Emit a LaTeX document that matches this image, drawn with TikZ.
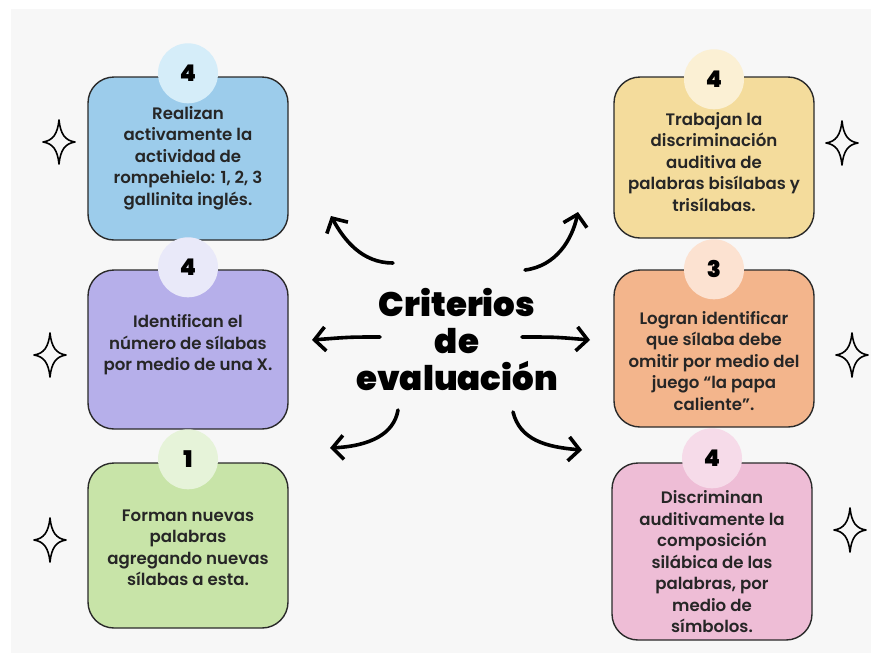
\documentclass[tikz,border=0pt]{standalone}
\usepackage{fontspec}
\setmainfont{Lato}
\newfontfamily\titlefont{Poppins Black}
\newfontfamily\cardfont{Poppins SemiBold}
\usetikzlibrary{arrows.meta}

\definecolor{bggray}{HTML}{F7F7F7}
\definecolor{cardline}{HTML}{2A2A2A}
\definecolor{inktext}{HTML}{262626}
\definecolor{bluecard}{HTML}{9CCCEB}
\definecolor{bluebadge}{HTML}{D5EDF9}
\definecolor{lilaccard}{HTML}{B6AFEA}
\definecolor{lilacbadge}{HTML}{E9E9F9}
\definecolor{greencard}{HTML}{C8E4A8}
\definecolor{greenbadge}{HTML}{E6F3D9}
\definecolor{sandcard}{HTML}{F4DC9C}
\definecolor{sandbadge}{HTML}{FBF0D4}
\definecolor{peachcard}{HTML}{F3B58C}
\definecolor{peachbadge}{HTML}{FCE2D1}
\definecolor{rosecard}{HTML}{EEBDD6}
\definecolor{rosebadge}{HTML}{F6DBE9}

\tikzset{
  card/.style={draw=cardline, line width=1.4pt, rounded corners=26pt, minimum width=200pt, fill=#1},
  badge/.style={circle, fill=#1, minimum size=60pt, inner sep=0pt, text=black,
    font=\titlefont\fontsize{23}{23}\selectfont},
  cardtext/.style={align=center, text=inktext, font=\cardfont\fontsize{16.6}{21.5}\selectfont},
  headline/.style={align=center, text=black, font=\titlefont\fontsize{34}{37}\selectfont},
  curvy/.style={line width=3.6pt, line cap=round, -{Straight Barb[length=11pt,width=24pt]}},
  starline/.style={line width=1.6pt, line join=round},
  sparkle/.pic={\draw[starline] (0,-22) .. controls (1.5,-8) and (6,-1.5) .. (16,0)
    .. controls (6,1.5) and (1.5,8) .. (0,22) .. controls (-1.5,8) and (-6,1.5) .. (-16,0)
    .. controls (-6,-1.5) and (-1.5,-8) .. (0,-22) -- cycle;}
}

\begin{document}
\begin{tikzpicture}[x=1pt, y=-1pt]
        % background
        \fill[white] (0,0) rectangle (882,662);
        \fill[bggray] (11,9) rectangle (871,653);
        % cards
        \node[card=bluecard, minimum height=163pt] (crit1) at (188,158.5) {};
        \node[card=lilaccard, minimum height=159pt] (crit2) at (188,349.5) {};
        \node[card=greencard, minimum height=165pt] (crit3) at (188,545.5) {};
        \node[card=sandcard, minimum height=161pt] (crit4) at (714,157.5) {};
        \node[card=peachcard, minimum height=157pt] (crit5) at (714,348.5) {};
        \node[card=rosecard, minimum height=177pt] (crit6) at (712,551.5) {};
        % badges
        \node[badge=bluebadge] (num1) at ([yshift=3pt]crit1.north) {4};
        \node[badge=lilacbadge] (num2) at ([yshift=2pt]crit2.north) {4};
        \node[badge=greenbadge] (num3) at ([yshift=3pt]crit3.north) {1};
        \node[badge=sandbadge] (num4) at ([yshift=-3pt]crit4.north) {4};
        \node[badge=peachbadge] (num5) at ([yshift=0pt]crit5.north) {3};
        \node[badge=rosebadge] (num6) at ([yshift=4pt]crit6.north) {4};
        % texts
        \node[cardtext] (txt1) at (188,158) {Realizan\\activamente la\\actividad de\\rompehielo: 1, 2, 3\\gallinita inglés.};
        \node[cardtext] (txt2) at (188,345) {Identifican el\\número de sílabas\\por medio de una X.};
        \node[cardtext] (txt3) at (188,548) {Forman nuevas\\palabras\\agregando nuevas\\sílabas a esta.};
        \node[cardtext] (txt4) at (714,162) {Trabajan la\\discriminación\\auditiva de\\palabras bisílabas y\\trisílabas.};
        \node[cardtext] (txt5) at (714,361) {Logran identificar\\que sílaba debe\\omitir por medio del\\juego “la papa\\caliente”.};
        \node[cardtext] (txt6) at (712,562) {Discriminan\\auditivamente la\\composición\\silábica de las\\palabras, por\\medio de\\símbolos.};
        % title
        \node[headline] (crit) at (457,340) {Criterios\\de\\evaluación};
        % arrows
        \coordinate (ul0) at (393,263); \coordinate (ul1) at (331,216);
        \coordinate (ur0) at (525,270); \coordinate (ur1) at (578,212);
        \coordinate (ml0) at (380,337); \coordinate (ml1) at (312,340);
        \coordinate (mr0) at (522,337); \coordinate (mr1) at (590,340);
        \coordinate (dl0) at (398,410); \coordinate (dl1) at (330,448);
        \coordinate (dr0) at (513,412); \coordinate (dr1) at (582,450);
        \draw[curvy] (ul0) .. controls (362,263) and (344,240) .. (ul1);
        \draw[curvy] (ur0) .. controls (556,266) and (572,240) .. (ur1);
        \draw[curvy] (ml0) .. controls (350,337) .. (ml1);
        \draw[curvy] (mr0) .. controls (555,337) .. (mr1);
        \draw[curvy] (dl0) .. controls (394,434) and (370,446) .. (dl1);
        \draw[curvy] (dr0) .. controls (520,440) and (546,447) .. (dr1);
        % sparkles
        \pic at (59,142) {sparkle};
        \pic at (50,355) {sparkle};
        \pic at (50,540) {sparkle};
        \pic at (842,143) {sparkle};
        \pic at (852,355) {sparkle};
        \pic at (850,530) {sparkle};
\end{tikzpicture}
\end{document}
